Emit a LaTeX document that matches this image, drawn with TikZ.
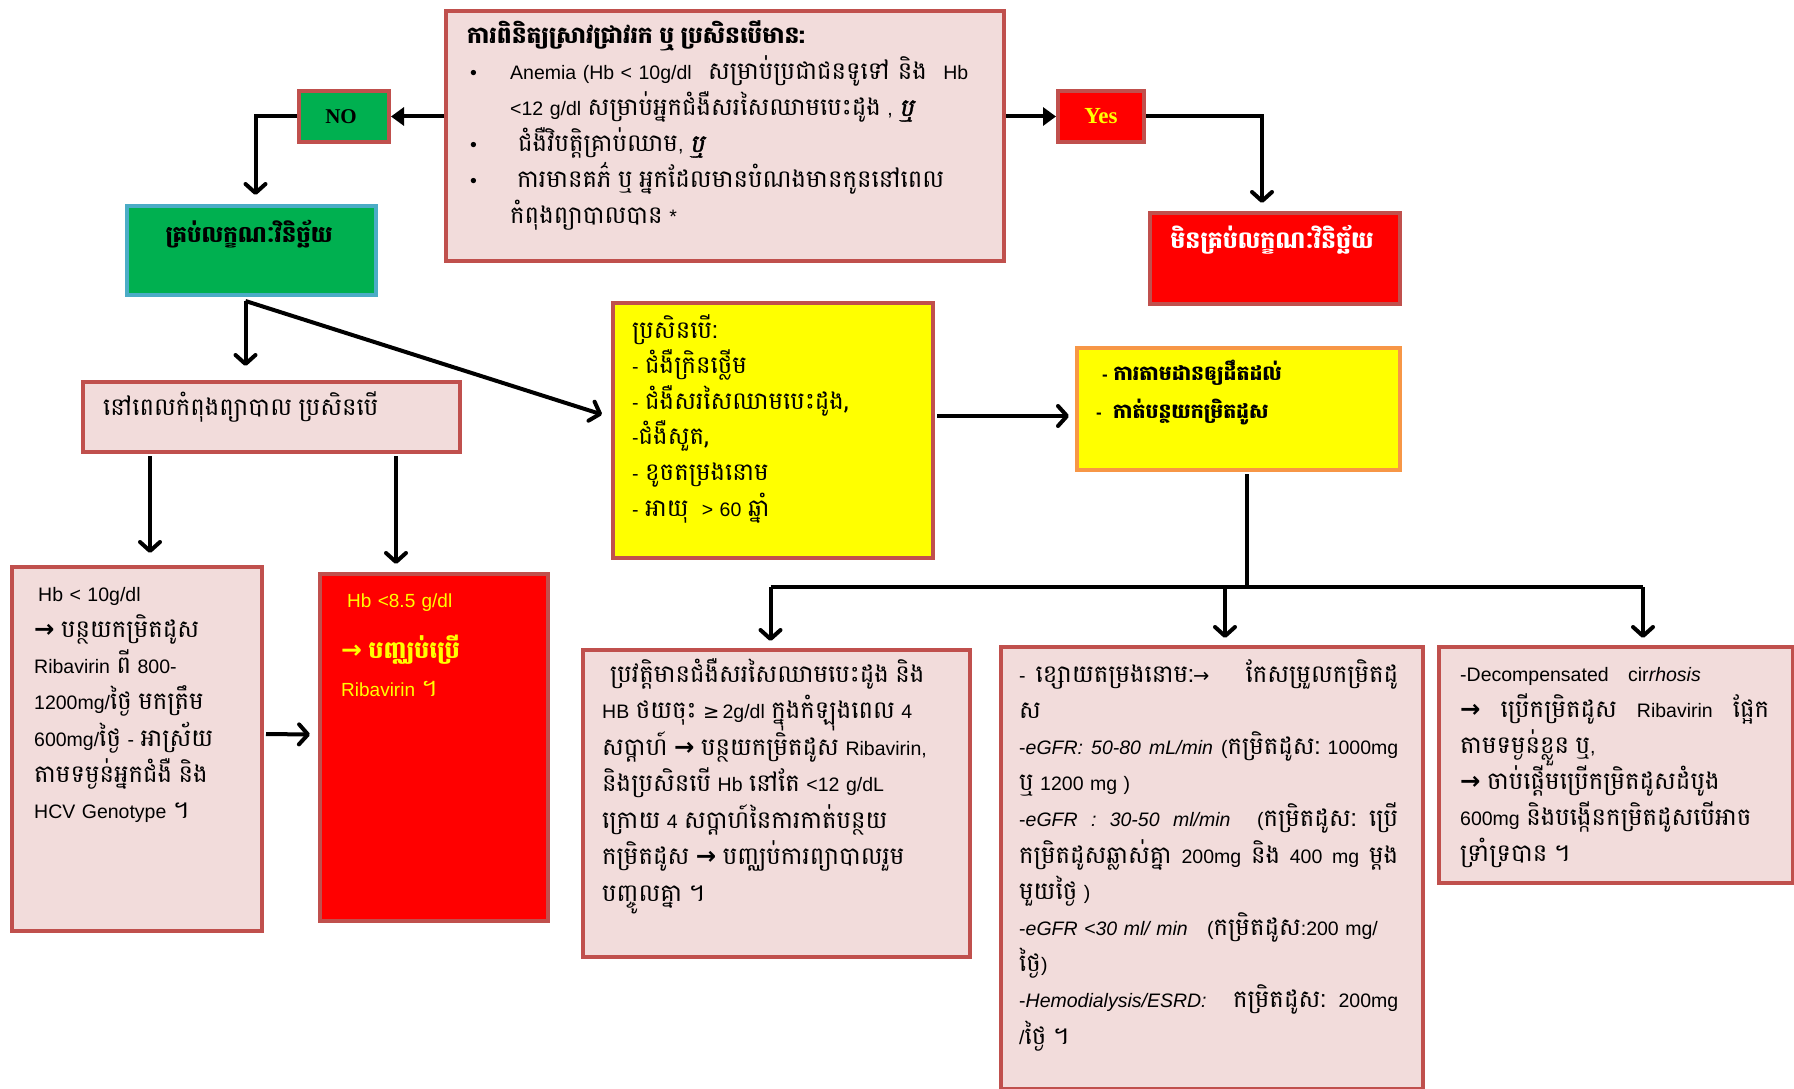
\documentclass[tikz,border=0pt]{standalone}
\usepackage{fontspec}
\setmainfont{Liberation Sans}
\newfontfamily\kh[Script=Khmer,Scale=1.25]{Battambang}
\newfontfamily\khb[Script=Khmer,Scale=1.2]{Battambang}
\newfontfamily\khbi[Script=Khmer,Scale=1.25,FakeSlant=0.2,FakeBold=1.5]{Battambang}
\newfontfamily\serifb{Liberation Serif}
\newfontfamily\dv{DejaVu Sans}
\newfontfamily\dva[Scale=1.25]{DejaVu Sans}
\usetikzlibrary{arrows.meta,calc}
\newcommand\km[1]{{\kh #1}}
\newcommand\kmb[1]{{\khb\bfseries #1}}
\newcommand\rar{{\dva\bfseries →}}
\newcommand\bul{\hspace*{3pt}\makebox[40pt][l]{•}}
\newcommand\jg{\hskip 0pt plus 1fill\relax}
\newcommand\jgg{\hskip 0pt plus 2fill\relax}
\definecolor{pinkf}{HTML}{F2DCDB}
\definecolor{redb}{HTML}{C0504D}
\definecolor{grn}{HTML}{00B050}
\definecolor{blueb}{HTML}{4BACC6}
\definecolor{orab}{HTML}{F79646}
\definecolor{yel}{HTML}{FFFF00}
\definecolor{rd}{HTML}{FF0000}
\tikzset{
  box/.style={draw=redb, line width=4pt, fill=pinkf, anchor=north west, inner sep=0pt},
  txt/.style={anchor=base west, inner sep=0pt, text width=#1, align=left},
  fs/.style={font={\fontsize{19.5}{#1}\selectfont\lineskiplimit-300pt}},
  con/.style={line width=4pt, black},
  arr/.style={con, -{Straight Barb[length=9pt,width=20pt,round]}},
  tri/.style={con, -{Triangle[length=13pt,width=18pt]}}
}
\begin{document}
\begin{tikzpicture}[x=1pt,y=-1pt]
\useasboundingbox[fill=white] (0,0) rectangle (1794,1089);
% boxes
\node[box, minimum width=558pt, minimum height=250pt] (T) at (444,9) {};
\node[box, fill=grn, minimum width=90pt, minimum height=51pt, font={\serifb\bfseries\fontsize{21}{24}\selectfont}] (NO) at (297,89) {\hspace*{-6pt}NO};
\node[box, fill=grn, draw=blueb, minimum width=249pt, minimum height=89pt] (G) at (125,204) {};
\node[box, fill=rd, minimum width=86pt, minimum height=51pt, text=yel, font={\serifb\bfseries\fontsize{23}{26}\selectfont}] (Yes) at (1056,89) {Yes};
\node[box, fill=rd, minimum width=250pt, minimum height=91pt] (R1) at (1148,211) {};
\node[box, minimum width=377pt, minimum height=70pt] (D) at (81,380) {};
\node[box, fill=yel, minimum width=320pt, minimum height=255pt] (Y1) at (611,301) {};
\node[box, fill=yel, draw=orab, minimum width=323pt, minimum height=122pt] (Y2) at (1075,346) {};
\node[box, minimum width=250pt, minimum height=364pt] (B1) at (10,565) {};
\node[box, fill=rd, minimum width=228pt, minimum height=347pt] (R2) at (318,572) {};
\node[box, minimum width=387pt, minimum height=307pt] (B3) at (581,648) {};
\node[box, minimum width=422pt, minimum height=442pt] (B4) at (999,645) {};
\node[box, minimum width=354pt, minimum height=236pt] (B5) at (1437,645) {};
% texts
\node[txt=530pt, fs=36] (Tt) at (467,44) {\kmb{ការពិនិត្យស្រាវជ្រាវរក ឬ ប្រសិនបើមាន:}\\
\bul\makebox[458pt][l]{Anemia (Hb < 10g/dl\jgg\km{សម្រាប់ប្រជាជនទូទៅ}\jg\km{និង}\jgg Hb}\\
\hspace*{43pt}<12 g/dl \km{សម្រាប់អ្នកជំងឺសរសៃឈាមបេះដូង} , {\khbi ឬ}\\
\bul\hspace*{8pt}\km{ជំងឺវិបត្តិគ្រាប់ឈាម}, {\khbi ឬ}\\
\bul\hspace*{7pt}\km{ការមានគភ៌ ឬ អ្នកដែលមានបំណងមានកូននៅពេល}\\
\hspace*{43pt}\km{កំពុងព្យាបាលបាន} *};
\node[anchor=base, inner sep=0pt, font={\fontsize{19}{24}\selectfont}] (Gt) at (249,242) {\kmb{គ្រប់លក្ខណៈវិនិច្ឆ័យ}};
\node[anchor=base, inner sep=0pt, font={\fontsize{19.7}{24}\selectfont}, text=white] (R1t) at (1272,248) {\kmb{មិនគ្រប់លក្ខណៈវិនិច្ឆ័យ}};
\node[txt=340pt, fs=36] (Dt) at (103,415) {\km{នៅពេលកំពុងព្យាបាល ប្រសិនបើ}};
\node[txt=290pt, fs=35.6] (Y1t) at (632,338) {\km{ប្រសិនបើ:}\\
- \km{ជំងឺក្រិនថ្លើម}\\
- \km{ជំងឺសរសៃឈាមបេះដូង,}\\
-\km{ជំងឺសួត,}\\
- \km{ខូចតម្រងនោម}\\
- \km{អាយុ}\ \ > 60 \km{ឆ្នាំ}};
\node[txt=290pt, font={\fontsize{17}{38}\selectfont\lineskiplimit-300pt}] (Y2t) at (1096,380) {\hspace*{6pt}\textbf{-} \kmb{ការតាមដានឲ្យដឹតដល់}\\
\textbf{-}\ \ \kmb{កាត់បន្ថយកម្រិតដូស}};
\node[txt=230pt, fs=36.3] (B1t) at (34,601) {\hspace*{4pt}Hb < 10g/dl\\
\rar\ \km{បន្ថយកម្រិតដូស}\\
Ribavirin \km{ពី} 800-\\
1200mg/\km{ថ្ងៃ មកត្រឹម}\\
600mg/\km{ថ្ងៃ} - \km{អាស្រ័យ}\\
\km{តាមទម្ងន់អ្នកជំងឺ និង}\\
HCV Genotype \km{។}};
\node[txt=210pt, text=yel, font={\fontsize{19}{38}\selectfont\lineskiplimit-300pt}] (R2t) at (341,607) {\hspace*{6pt}Hb <8.5 g/dl\\[13pt]
{\fontsize{20}{38}\selectfont\rar\ \kmb{បញ្ឈប់ប្រើ}}\\
Ribavirin \km{។}};
\node[txt=370pt, fs=36.5] (B3t) at (602,682) {\hspace*{8pt}\km{ប្រវត្តិមានជំងឺសរសៃឈាមបេះដូង និង}\\
HB \km{ថយចុះ} {\dv ≥}\,2g/dl \km{ក្នុងកំឡុងពេល} 4\\
\km{សប្តាហ៍} \rar\ \km{បន្ថយកម្រិតដូស} Ribavirin,\\
\km{និងប្រសិនបើ} Hb \km{នៅតែ} <12 g/dL\\
\km{ក្រោយ} 4 \km{សប្តាហ៍នៃការកាត់បន្ថយ}\\
\km{កម្រិតដូស} \rar\ \km{បញ្ឈប់ការព្យាបាលរួម}\\
\km{បញ្ចូលគ្នា ។}};
\node[txt=400pt, fs=36.2] (B4t) at (1019,682) {\makebox[379pt][l]{-\hspace{10pt}\km{ខ្សោយតម្រងនោម:}{\dv →}\jg\km{កែសម្រួលកម្រិតដូ}}\\
\km{ស}\\
\makebox[379pt][l]{-\textit{eGFR:\jg 50-80\jg mL/min}\jg(\km{កម្រិតដូស:}\jg 1000mg}\\
\km{ឬ} 1200 mg )\\
\makebox[379pt][l]{-\textit{eGFR\jg:\jg 30-50\jg ml/min}\jgg(\km{កម្រិតដូស:}\jg\km{ប្រើ}}\\
\makebox[379pt][l]{\km{កម្រិតដូសឆ្លាស់គ្នា}\jg 200mg\jg\km{និង}\jg 400\jg mg\jg\km{ម្តង}}\\
\km{មួយថ្ងៃ} )\\
-\textit{eGFR <30 ml/ min}\ \ \ (\km{កម្រិតដូស}:200 mg/\\
\km{ថ្ងៃ})\\
\makebox[379pt][l]{-\textit{Hemodialysis/ESRD:}\jgg\km{កម្រិតដូស:}\jg 200mg}\\
/\km{ថ្ងៃ ។}};
\node[txt=330pt, fs=36] (B5t) at (1460,681) {-Decompensated\ \ \ cir\textit{rhosis}\\
\makebox[309pt][l]{\rar\jg\km{ប្រើកម្រិតដូស}\jg Ribavirin\jg\km{ផ្អែក}}\\
\km{តាមទម្ងន់ខ្លួន ឬ},\\
\rar\ \km{ចាប់ផ្តើមប្រើកម្រិតដូសដំបូង}\\
600mg \km{និងបង្កើនកម្រិតដូសបើអាច}\\
\km{ទ្រាំទ្របាន ។}};
% connectors
\draw[tri] (NO.east -| T.west) -- (NO.east);
\draw[arr] (NO.west) -| ($(G.north)+(4,-9)$);
\draw[tri] (Yes.west -| T.east) -- (Yes.west);
\draw[arr] (Yes.east) -| ($(R1.north)+(-13,-8)$);
\coordinate (gs) at ($(G.south)+(-6,4)$);
\draw[arr] (gs) -- ($(gs |- D.north)+(0,-14)$);
\draw[arr] (gs) -- ($(Y1.west)+(-9,-16)$);
\draw[arr] ($(D.south west)+(69,2)$) -- ($(B1.north west)+(140,-12)$);
\draw[arr] ($(D.south west)+(315,2)$) -- ($(R2.north west)+(78,-8)$);
\draw[arr] ($(B1.east)+(2,-15)$) -- ($(R2.west)+(-8,-13)$);
\draw[arr] ($(Y2.west -| Y1.east)+(2,7)$) -- ($(Y2.west)+(-6,7)$);
\coordinate (trunk) at ($(Y2.south)+(8,2)$);
\coordinate (bus) at ($(trunk)+(0,113)$);
\coordinate (b3top) at ($(B3.north)+(-6,-7)$);
\coordinate (b4top) at ($(B4.north)+(13,-7)$);
\coordinate (b5top) at ($(B5.north)+(27,-7)$);
\draw[con] (trunk) -- (bus);
\draw[con] (bus -| b3top) -- (bus -| b5top);
\draw[arr] (bus -| b3top) -- (b3top);
\draw[arr] (bus -| b4top) -- (b4top);
\draw[arr] (bus -| b5top) -- (b5top);
\end{tikzpicture}
\end{document}
